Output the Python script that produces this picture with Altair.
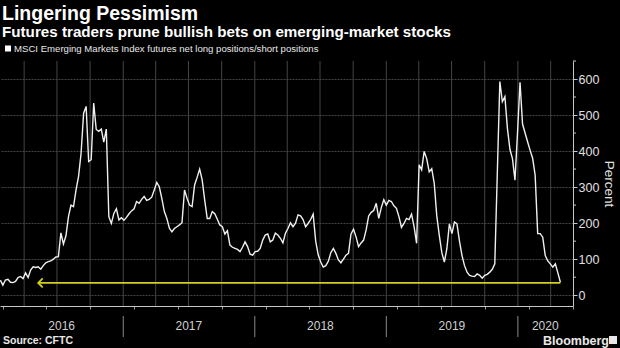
import altair as alt
import pandas as pd

# ---------------- data ----------------
title = "Lingering Pessimism"
subtitle = "Futures traders prune bullish bets on emerging-market stocks"
legend_label = "MSCI Emerging Markets Index futures net long positions/short positions"
source = "Source: CFTC"

first_date = "2016-01-26"   # weekly CFTC reports (Tuesdays)
values = [
    42, 28, 42, 44, 36, 35, 38, 49, 52, 46,
    62, 49, 70, 79, 77, 79, 72, 82, 90, 93,
    95, 100, 106, 107, 173, 142, 165, 218, 250, 246,
    292, 330, 394, 505, 524, 371, 376, 533, 460, 455,
    461, 425, 461, 218, 199, 227, 240, 209, 215, 208,
    216, 226, 234, 240, 260, 255, 266, 274, 263, 266,
    272, 292, 313, 301, 269, 232, 213, 186, 176, 185,
    190, 195, 201, 292, 269, 250, 246, 306, 327, 350,
    320, 264, 213, 213, 232, 226, 211, 195, 190, 170,
    179, 139, 133, 130, 127, 121, 133, 148, 135, 114,
    111, 121, 122, 130, 153, 167, 170, 148, 153, 172,
    167, 158, 145, 172, 185, 201, 190, 200, 223, 220,
    210, 190, 199, 210, 225, 150, 112, 92, 78, 82,
    94, 118, 130, 116, 98, 90, 100, 111, 116, 170,
    183, 162, 135, 145, 153, 181, 220, 230, 235, 255,
    213, 243, 265, 250, 263, 260, 248, 241, 218, 188,
    199, 213, 210, 225, 190, 144, 362, 348, 399, 379,
    342, 351, 310, 220, 166, 118, 92, 129, 198, 171,
    203, 198, 150, 110, 82, 64, 55, 53, 52, 59,
    55, 47, 55, 58, 64, 72, 87, 340, 593, 537,
    551, 463, 405, 379, 319, 450, 591, 475, 450, 426,
    402, 380, 333, 171, 171, 161, 110, 95, 87, 78,
    87, 62, 36,
]
years = [2016, 2017, 2018, 2019, 2020]
y_ticks = [0, 100, 200, 300, 400, 500, 600]
y_minor_ticks = [50, 150, 250, 350, 450, 550, 650]
arrow_level = 34
arrow_to = "2016-05-10"

x_start, x_end = "2016-01-25", "2020-06-02"
y_min, y_max = -30, 650

# ---------------- frames ----------------
dates = pd.date_range(first_date, periods=len(values), freq="7D")
df = pd.DataFrame({"date": dates.strftime("%Y-%m-%d"), "value": values})

ds, de = pd.Timestamp(x_start), pd.Timestamp(x_end)
quarters = pd.date_range("2016-04-01", x_end, freq="QS")
df_q = pd.DataFrame({"date": quarters.strftime("%Y-%m-%d")})
months = pd.date_range("2016-02-01", x_end, freq="MS")

lab_rows = []
for yr in years:
    s = max(pd.Timestamp(f"{yr}-01-01"), ds)
    e = min(pd.Timestamp(f"{yr + 1}-01-01"), de)
    lab_rows.append({"date": (s + (e - s) / 2).strftime("%Y-%m-%d"), "label": str(yr)})
df_years = pd.DataFrame(lab_rows)
df_sep = pd.DataFrame({"date": [f"{yr}-01-01" for yr in years[1:]]})
df_arrow = pd.DataFrame({"start": [df["date"].iloc[-1]], "end": [arrow_to], "v": [arrow_level]})
df_minor = pd.DataFrame({"v": y_minor_ticks})


def dt(s):
    t = pd.Timestamp(s)
    return alt.DateTime(year=t.year, month=t.month, date=t.day)


x_scale = alt.Scale(domain=[dt(x_start), dt(x_end)])
y_scale = alt.Scale(domain=[y_min, y_max], nice=False, zero=False)

FONT = "Liberation Sans"
GRID = "#444444"
AXIS = "#c8c8c8"
YELLOW = "#d4cf1e"

line = alt.Chart(df).mark_line(color="#f0f0f0", strokeWidth=1.4, clip=True).encode(
    x=alt.X("date:T", scale=x_scale,
            axis=alt.Axis(values=[dt(m) for m in months], labels=False, grid=False,
                          tickSize=3, tickColor="#9a9a9a", domainColor=AXIS, title=None)),
    y=alt.Y("value:Q", scale=y_scale,
            axis=alt.Axis(orient="right", values=y_ticks, grid=True, gridColor=GRID,
                          gridDash=[2, 1], tickSize=4, tickColor=AXIS, domainColor=AXIS,
                          labelColor="#e0e0e0", labelFontSize=12.5, labelFont=FONT,
                          labelPadding=1, title="Percent", titleAngle=90,
                          titleColor="#e0e0e0", titleFontSize=13.5, titleFont=FONT,
                          titleFontWeight="normal", titlePadding=3)),
)

vgrid = alt.Chart(df_q).mark_rule(color=GRID, strokeWidth=1).encode(
    x=alt.X("date:T", scale=x_scale), y=alt.value(0), y2=alt.value(245)
)

minor = alt.Chart(df_minor).mark_rule(color=AXIS, strokeWidth=1).encode(
    y=alt.Y("v:Q", scale=y_scale), x=alt.value(573), x2=alt.value(576)
)

arrow_line = alt.Chart(df_arrow).mark_rule(color=YELLOW, strokeWidth=1.8).encode(
    x=alt.X("start:T", scale=x_scale), x2="end:T", y=alt.Y("v:Q", scale=y_scale)
)
arrow_head = alt.Chart(df_arrow).mark_point(
    shape="M 1 -1 L 0 0 L 1 1", filled=False, color=YELLOW, strokeWidth=1.8, size=81, opacity=1
).encode(x=alt.X("end:T", scale=x_scale), y=alt.Y("v:Q", scale=y_scale))

year_labels = alt.Chart(df_years).mark_text(
    font=FONT, fontSize=12, color="#d0d0d0", baseline="middle", align="center"
).encode(x=alt.X("date:T", scale=x_scale), y=alt.value(265), text="label:N")

year_seps = alt.Chart(df_sep).mark_rule(color="#8a8a8a", strokeWidth=1).encode(
    x=alt.X("date:T", scale=x_scale), y=alt.value(255), y2=alt.value(276)
)


def text_layer(txt, x, y, size, weight="normal", color="#ffffff", font=FONT, align="left"):
    return alt.Chart(pd.DataFrame({"t": [txt]})).mark_text(
        font=font, fontSize=size, fontWeight=weight, color=color, align=align,
        baseline="alphabetic"
    ).encode(x=alt.value(x), y=alt.value(y), text="t:N")


t_title = text_layer(title, 2, -41, 19.5, "bold")
t_sub = text_layer(subtitle, 2, -24, 15.2, "bold")
t_leg = text_layer(legend_label, 14, -9, 9.6, "normal", "#e8e8e8")
leg_sq = alt.Chart(pd.DataFrame({"t": [legend_label]})).mark_square(
    color="#ffffff", size=36, opacity=1
).encode(x=alt.value(8), y=alt.value(-12.5))
t_src = text_layer(source, 3, 283, 10.5, "bold", "#e8e8e8")
t_bb = text_layer("Bloomberg", 543, 284, 12.5, "bold", "#e8e8e8")
bb_icon = alt.Chart(pd.DataFrame({"t": ["icon"]})).mark_square(
    color="#e8e8e8", size=64, opacity=1
).encode(x=alt.value(613), y=alt.value(279))

chart = alt.layer(
    vgrid, line, minor, arrow_line, arrow_head, year_seps, year_labels,
    t_title, t_sub, t_leg, leg_sq, t_src, t_bb, bb_icon
).properties(
    width=573, height=245,
    padding={"left": 0, "top": 61, "right": 47, "bottom": 42},
    autosize=alt.AutoSizeParams(type="none"),
    background="#000000",
).configure_view(stroke=None)

chart.save("out.html", embed_options={"renderer": "svg", "actions": False})
